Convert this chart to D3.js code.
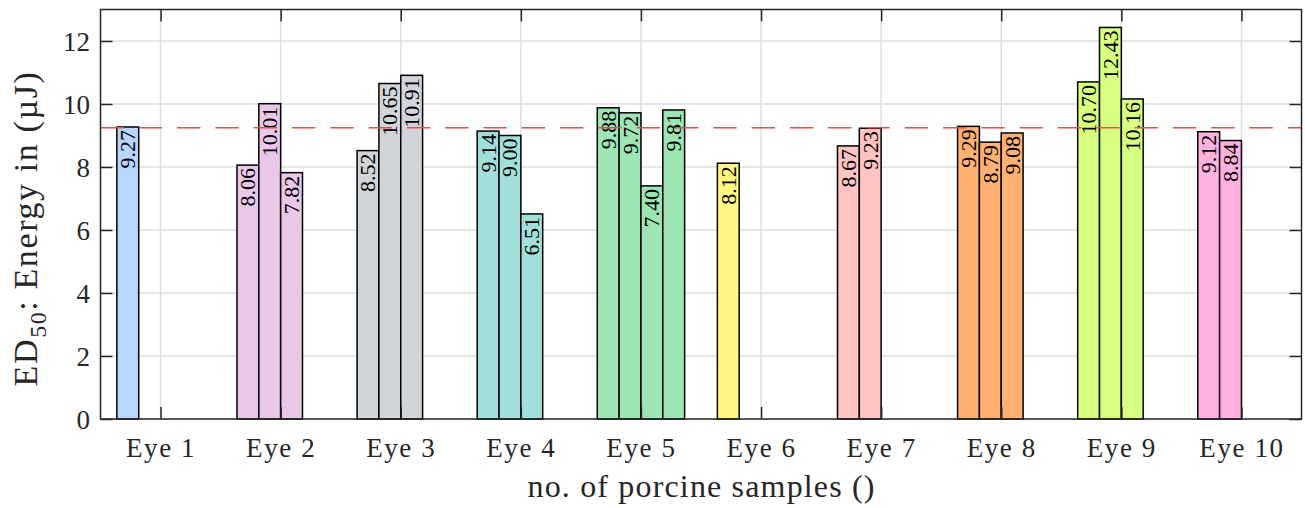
<!DOCTYPE html>
<html>
<head>
<meta charset="utf-8">
<script src="https://cdn.jsdelivr.net/npm/d3@7"></script>
<style>
  html, body { margin: 0; padding: 0; background: #fff; }
  svg { display: block; }
  text { font-family: "Liberation Serif", "Times New Roman", serif; fill: #262626; }
</style>
</head>
<body>
<div id="chart"></div>
<script>
// ---- data ----
const categories = ["Eye 1", "Eye 2", "Eye 3", "Eye 4", "Eye 5", "Eye 6", "Eye 7", "Eye 8", "Eye 9", "Eye 10"];
const series1 = [9.27, 8.06, 8.52, 9.14, 9.88, 8.12, 8.67, 9.29, 10.70, 9.12];
const series2 = [null, 10.01, 10.65, 9.00, 9.72, null, 9.23, 8.79, 12.43, 8.84];
const series3 = [null, 7.82, 10.91, 6.51, 7.40, null, null, 9.08, 10.16, null];
const series4 = [null, null, null, null, 9.81, null, null, null, null, null];
const groupColors = ["#b9d6ff", "#e9c7e6", "#d1d4d8", "#a1e0da", "#9de5b4", "#fff780", "#ffc3c1", "#ffb174", "#d7ff80", "#ffb2df"];
const yTicks = [0, 2, 4, 6, 8, 10, 12];
const yDomain = [0, 13];
const xLabel = "no. of porcine samples ()";

const seriesList = [series1, series2, series3, series4];

// ---- layout ----
const W = 1305, H = 508;
const L = 100.5, R = 1301.5, T = 9.5, B = 419;

const svg = d3.select("#chart").append("svg").attr("width", W).attr("height", H);

const x0 = d3.scaleBand().domain(categories).range([L, R]).paddingInner(0).paddingOuter(0);
const x1 = d3.scaleBand().domain(d3.range(seriesList.length)).range([0, x0.bandwidth()]).paddingInner(0).paddingOuter(0.75);
const y = d3.scaleLinear().domain(yDomain).range([B, T]);

const bars = [];
categories.forEach((c, i) => {
  seriesList.forEach((s, j) => {
    if (s[i] != null) bars.push({ cat: c, gi: i, si: j, v: s[i] });
  });
});

// grid
const grid = svg.append("g");
grid.selectAll("line.gx").data(categories).join("line")
  .attr("x1", d => x0(d) + x0.bandwidth() / 2).attr("x2", d => x0(d) + x0.bandwidth() / 2)
  .attr("y1", T).attr("y2", B)
  .attr("stroke", "#dedede").attr("stroke-width", 1.5);
grid.selectAll("line.gy").data(yTicks).join("line")
  .attr("x1", L).attr("x2", R)
  .attr("y1", d => y(d)).attr("y2", d => y(d))
  .attr("stroke", "#dedede").attr("stroke-width", 1.5);

// bars
svg.append("g").selectAll("rect").data(bars).join("rect")
  .attr("x", d => x0(d.cat) + x1(d.si))
  .attr("width", x1.bandwidth())
  .attr("y", d => y(d.v))
  .attr("height", d => y(0) - y(d.v))
  .attr("fill", d => groupColors[d.gi])
  .attr("stroke", "#000").attr("stroke-width", 1.5);

// bar labels
svg.append("g").selectAll("text").data(bars).join("text")
  .attr("transform", d => `translate(${x0(d.cat) + x1(d.si) + x1.bandwidth() / 2},${y(d.v) + 3}) rotate(-90)`)
  .attr("text-anchor", "end")
  .attr("dy", "0.34em")
  .style("font-size", "22px")
  .style("fill", "#000")
  .text(d => d.v.toFixed(2));

// mean line
const meanVal = d3.mean(bars, d => d.v);
svg.append("line")
  .attr("x1", L).attr("x2", R)
  .attr("y1", y(meanVal)).attr("y2", y(meanVal))
  .attr("stroke", "#f44848").attr("stroke-width", 1.5)
  .attr("stroke-dasharray", "23.3 15");

// axes
const xCenter = d3.scalePoint().domain(categories).range([x0(categories[0]) + x0.bandwidth() / 2, x0(categories[categories.length - 1]) + x0.bandwidth() / 2]);
const axB = svg.append("g").attr("transform", `translate(0,${B})`)
  .call(d3.axisBottom(xCenter).tickSize(-12).tickPadding(19));
const axT = svg.append("g").attr("transform", `translate(0,${T})`)
  .call(d3.axisTop(xCenter).tickSize(-12).tickFormat(""));
const axL = svg.append("g").attr("transform", `translate(${L},0)`)
  .call(d3.axisLeft(y).tickValues(yTicks).tickSize(-12).tickPadding(10.5));
const axR = svg.append("g").attr("transform", `translate(${R},0)`)
  .call(d3.axisRight(y).tickValues(yTicks).tickSize(-12).tickFormat(""));

[axB, axT, axL, axR].forEach(a => {
  a.select(".domain").remove();
  a.attr("font-family", null);
  a.selectAll(".tick line").attr("stroke", "#262626").attr("stroke-width", 1.5);
  a.selectAll(".tick text").style("font-size", "27px").style("fill", "#262626");
});
axB.selectAll(".tick text").attr("dy", "0.71em").style("letter-spacing", "1.6px");
axL.selectAll(".tick text").attr("dy", "0.34em");

// box
svg.append("rect").attr("x", L).attr("y", T).attr("width", R - L).attr("height", B - T)
  .attr("fill", "none").attr("stroke", "#262626").attr("stroke-width", 1.5);

// axis titles
svg.append("text")
  .attr("x", (L + R) / 2).attr("y", 497)
  .attr("text-anchor", "middle")
  .attr("textLength", 347).attr("lengthAdjust", "spacing")
  .style("font-size", "32px")
  .text(xLabel);

const yl = svg.append("text")
  .attr("transform", `translate(37,228.5) rotate(-90)`)
  .attr("text-anchor", "middle")
  .style("font-size", "34px")
  .style("letter-spacing", "1.6px");
yl.append("tspan").text("ED");
yl.append("tspan").attr("dy", 9).style("font-size", "24px").text("50");
yl.append("tspan").attr("dy", -9).text(": Energy in (µJ)");
</script>
</body>
</html>
